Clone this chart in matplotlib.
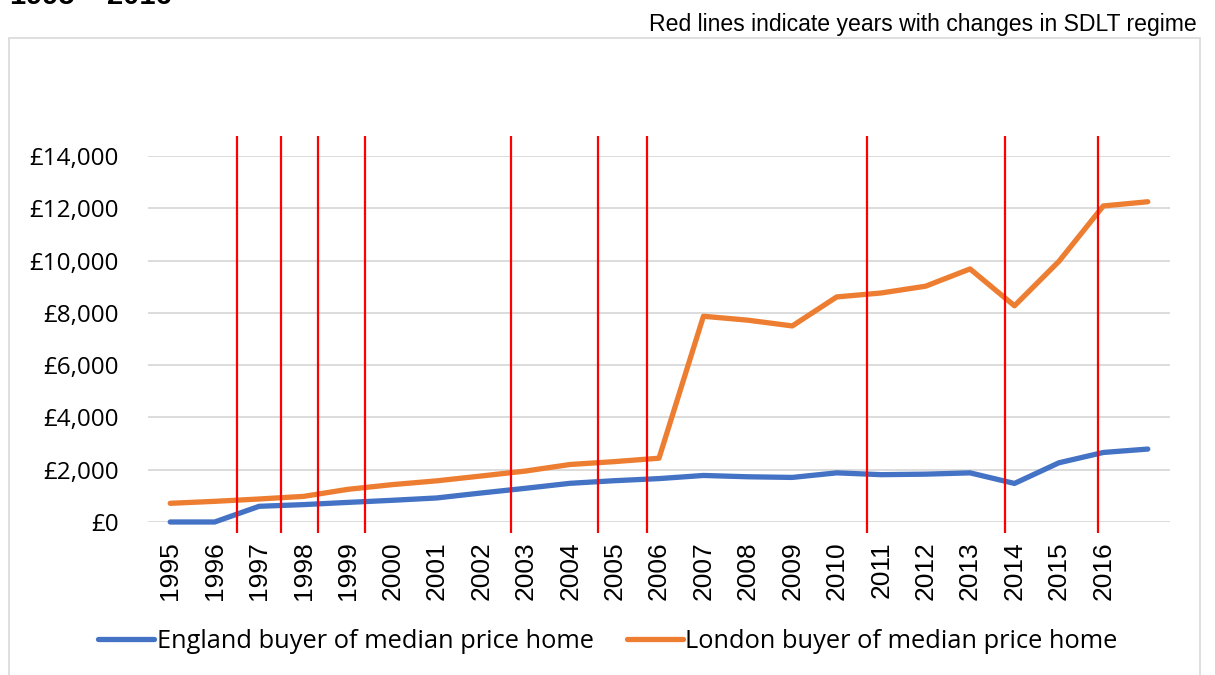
import matplotlib
matplotlib.use("Agg")
import matplotlib.pyplot as plt
from matplotlib import ticker
from matplotlib.patches import Rectangle

# data
years = [str(y) for y in range(1995, 2017)] + [""]
england = [0, 0, 600, 665, 750, 830, 920, 1110, 1290, 1480, 1580, 1660,
           1780, 1730, 1705, 1880, 1810, 1830, 1880, 1475, 2265, 2660, 2790]
london = [715, 790, 880, 980, 1250, 1430, 1575, 1760, 1950, 2200, 2310, 2440,
          7870, 7720, 7500, 8610, 8760, 9020, 9680, 8270, 9970, 12090, 12250]
# SDLT regime changes, in category positions (0 = 1995)
sdlt_changes = [1.50, 2.49, 3.33, 4.38, 7.66, 9.63, 10.74, 15.69, 18.78, 20.88]

blue = '#4472C4'
orange = '#ED7D31'
red = '#FF0000'
grid = '#D9D9D9'

plt.rcParams['font.family'] = ['Open Sans', 'DejaVu Sans']


def pounds(v, pos):
    return "£{:,.0f}".format(v)


fig = plt.figure(figsize=(12.15, 6.75), dpi=100)
ax = fig.add_axes([148 / 1215, 1 - 522 / 675, 1022 / 1215, 366 / 675])

x = list(range(len(years)))
ax.plot(x, england, color=blue, lw=3.8, solid_capstyle='round', clip_on=False,
        solid_joinstyle='round', label="England buyer of median price home", zorder=3)
ax.plot(x, london, color=orange, lw=3.8, solid_capstyle='round', clip_on=False,
        solid_joinstyle='round', label="London buyer of median price home", zorder=3)

ax.vlines(sdlt_changes, -420, 14780, color=red, lw=1.6, clip_on=False, zorder=4)

ax.set_xlim(-0.5, len(years) - 0.5)
ax.set_ylim(0, 14000)
ax.yaxis.set_major_locator(ticker.MultipleLocator(2000))
ax.yaxis.set_major_formatter(ticker.FuncFormatter(pounds))
ax.set_xticks(x)
ax.set_xticklabels(years, rotation=90, family='Liberation Sans', fontsize=19)
ax.tick_params(axis='x', length=0, pad=14)
ax.tick_params(axis='y', length=0, pad=21, labelsize=17.5)
ax.grid(axis='y', color=grid, lw=1.3)
ax.set_axisbelow(True)
for s in ax.spines.values():
    s.set_visible(False)

fig.legend(loc='center', bbox_to_anchor=(608 / 1215, 1 - 641 / 675), ncol=2,
           frameon=False, fontsize=18.3, handlelength=2.2, handletextpad=0.1,
           columnspacing=1.3)

# chart frame and texts
fig.add_artist(Rectangle((9 / 1215, -0.02), 1191 / 1215, 1.02 - 37.5 / 675,
                         transform=fig.transFigure, fill=False, ec=grid, lw=1.2))
fig.text(10 / 1215, 1 - 4 / 675, "1995 – 2016", family='Liberation Sans',
         fontweight='bold', fontsize=21, va='baseline', ha='left')
fig.text(1197 / 1215, 1 - 31.5 / 675, "Red lines indicate years with changes in SDLT regime",
         family='Liberation Sans', fontsize=16.6, va='baseline', ha='right')

fig.savefig("out.png", dpi=100)
